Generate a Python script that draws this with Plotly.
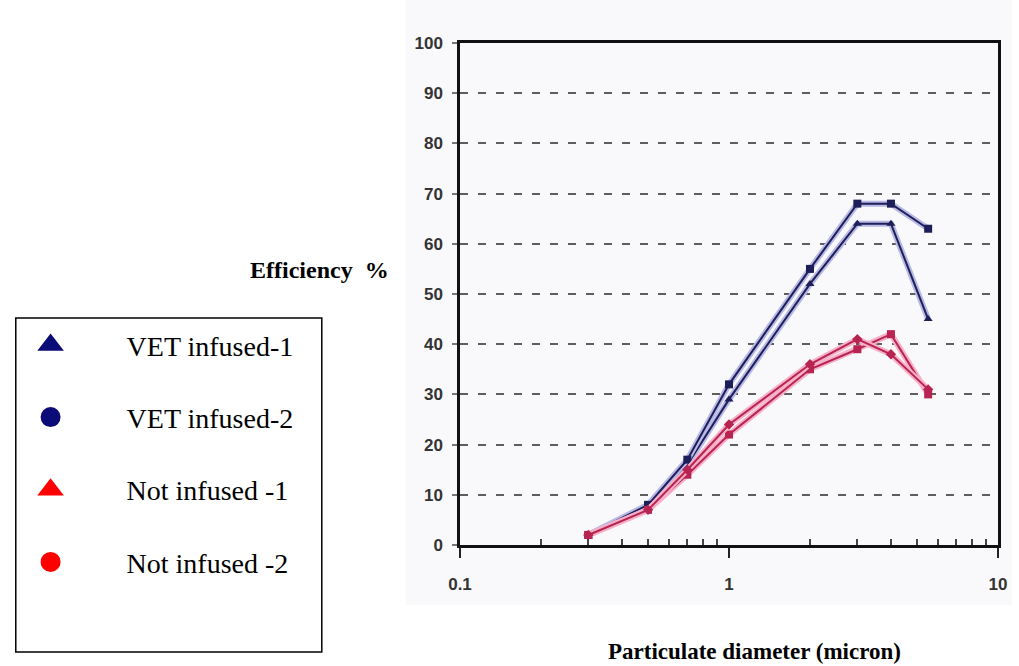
import plotly.graph_objects as go

# ---- data ----
diameter = [0.3, 0.5, 0.7, 1, 2, 3, 4, 5.5]
vet_infused_1 = [2, 8, 16, 29, 52, 64, 64, 45]
vet_infused_2 = [2, 8, 17, 32, 55, 68, 68, 63]
not_infused_1 = [2, 7, 14, 22, 35, 39, 42, 30]
not_infused_2 = [2, 7, 15, 24, 36, 41, 38, 31]

series_names = ["VET infused-1", "VET infused-2", "Not infused -1", "Not infused -2"]
series_values = [vet_infused_1, vet_infused_2, not_infused_1, not_infused_2]
legend_symbols = ["triangle-up", "circle", "triangle-up", "circle"]
legend_colors = ["#0c0c78", "#0c0c78", "#ff0000", "#ff0000"]
line_symbols = ["triangle-up", "square", "square", "diamond"]
core_colors = ["#1e1e58", "#1e1e58", "#b82452", "#b82452"]
halo_colors = ["#b8b8e6", "#b8b8e6", "#f6b0c8", "#f6b0c8"]

y_ticks = list(range(0, 101, 10))
x_ticks = [0.1, 1, 10]
x_tick_labels = ["0.1", "1", "10"]
x_minor = [0.2, 0.3, 0.4, 0.5, 0.6, 0.7, 0.8, 0.9, 2, 3, 4, 5, 6, 7, 8, 9]

fig = go.Figure()

# plotted lines (halo + core)
for vals, sym, core, halo in zip(series_values, line_symbols, core_colors, halo_colors):
    fig.add_trace(go.Scatter(x=diameter, y=vals, mode="lines", showlegend=False,
                             hoverinfo="skip", line=dict(color=halo, width=6)))
    fig.add_trace(go.Scatter(x=diameter, y=vals, mode="lines+markers", showlegend=False,
                             line=dict(color=core, width=2),
                             marker=dict(symbol=sym, size=8, color=core)))

# legend entries
for i, (name, sym, col) in enumerate(zip(series_names, legend_symbols, legend_colors)):
    fig.add_trace(go.Scatter(x=[None], y=[None], mode="markers", name="\u00a0" * 8 + name,
                             legendgroup=f"g{i}",
                             marker=dict(symbol=sym, size=24, color=col,
                                         line=dict(color=col, width=4))))

L, R, T, B = 460, 14, 43, 121
W, H = 1019, 666
pw, ph = W - L - R, H - T - B

def px(x):
    return (x - L) / pw

def py(y):
    return (H - B - y) / ph

tickfont = dict(family="Liberation Sans", size=17, color="#333333", weight="bold")

fig.update_layout(
    width=W, height=H,
    margin=dict(l=L, r=R, t=T, b=B, pad=0),
    paper_bgcolor="white",
    plot_bgcolor="rgba(0,0,0,0)",
    showlegend=True,
    legend=dict(x=px(25), y=py(320), xanchor="left", yanchor="top",
                font=dict(family="Liberation Serif", size=28, color="black"),
                bgcolor="rgba(0,0,0,0)", borderwidth=0, tracegroupgap=33,
                itemsizing="trace"),
    xaxis=dict(type="log", range=[-1, 1], tickvals=x_ticks, ticktext=x_tick_labels,
               showgrid=False, zeroline=False,
               showline=True, linecolor="#111111", linewidth=2.5, mirror=True,
               ticks="outside", ticklen=10, tickwidth=2, tickcolor="#222222",
               ticklabelstandoff=12, tickfont=tickfont,
               minor=dict(tickvals=x_minor, ticks="inside", ticklen=6,
                          tickwidth=1.5, tickcolor="#444444", showgrid=False)),
    yaxis=dict(range=[0, 100], tickvals=y_ticks,
               showgrid=True, gridcolor="#5e5e5e", gridwidth=2, griddash="8px,10px",
               zeroline=False,
               showline=True, linecolor="#111111", linewidth=2.5, mirror=True,
               ticks="outside", ticklen=5, tickwidth=2, tickcolor="#777777",
               ticklabelstandoff=6, tickfont=tickfont),
    shapes=[
        dict(type="rect", xref="paper", yref="paper",
             x0=px(405), x1=px(1019), y0=py(605), y1=py(0),
             fillcolor="#f9f9fc", line=dict(width=0), layer="below"),
        dict(type="rect", xref="paper", yref="paper",
             x0=px(10), x1=px(320), y0=py(652), y1=py(318),
             fillcolor="rgba(0,0,0,0)", line=dict(color="black", width=1.5)),
    ],
    annotations=[
        dict(text="<b>Efficiency  %</b>", xref="paper", yref="paper",
             x=px(390), y=py(270), xanchor="right", yanchor="middle", showarrow=False,
             font=dict(family="Liberation Serif", size=24, color="black")),
        dict(text="<b>Particulate diameter (micron)</b>", xref="paper", yref="paper",
             x=px(758), y=py(651), xanchor="center", yanchor="middle", showarrow=False,
             font=dict(family="Liberation Serif", size=23, color="black")),
    ],
)

fig.write_html("out.html")
